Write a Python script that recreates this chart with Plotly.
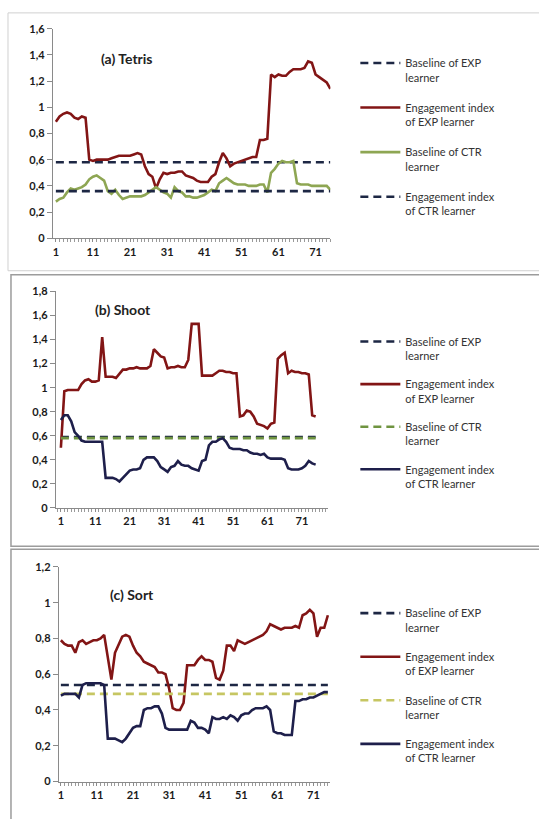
import plotly.graph_objects as go

# ---------------- data ----------------
x_tetris = list(range(1, 76))
tetris_exp_engagement = [0.89, 0.93, 0.95, 0.96, 0.95, 0.92, 0.91, 0.93, 0.92, 0.60,
                         0.59, 0.60, 0.60, 0.60, 0.60, 0.61, 0.62, 0.63, 0.63, 0.63,
                         0.63, 0.64, 0.65, 0.64, 0.55, 0.49, 0.47, 0.38, 0.45, 0.50,
                         0.49, 0.50, 0.50, 0.51, 0.51, 0.48, 0.47, 0.46, 0.44, 0.43,
                         0.43, 0.43, 0.47, 0.49, 0.58, 0.65, 0.61, 0.55, 0.57, 0.58,
                         0.59, 0.60, 0.61, 0.62, 0.62, 0.75, 0.75, 0.76, 1.25, 1.23,
                         1.25, 1.24, 1.24, 1.27, 1.29, 1.29, 1.29, 1.30, 1.35, 1.34,
                         1.25, 1.23, 1.21, 1.19, 1.14]
tetris_ctr_baseline = [0.28, 0.30, 0.31, 0.35, 0.38, 0.37, 0.38, 0.39, 0.41, 0.45,
                       0.47, 0.48, 0.46, 0.44, 0.36, 0.34, 0.37, 0.33, 0.30, 0.31,
                       0.32, 0.32, 0.32, 0.32, 0.33, 0.35, 0.37, 0.39, 0.37, 0.35,
                       0.34, 0.31, 0.39, 0.36, 0.35, 0.32, 0.32, 0.31, 0.31, 0.32,
                       0.33, 0.35, 0.37, 0.36, 0.42, 0.44, 0.46, 0.44, 0.42, 0.41,
                       0.41, 0.41, 0.40, 0.40, 0.40, 0.41, 0.41, 0.35, 0.50, 0.53,
                       0.57, 0.59, 0.58, 0.58, 0.59, 0.42, 0.41, 0.41, 0.41, 0.40,
                       0.40, 0.40, 0.40, 0.40, 0.37]
tetris_exp_baseline = 0.58
tetris_ctr_engagement_level = 0.36

x_shoot = list(range(1, 76))
shoot_exp_engagement = [0.50, 0.97, 0.98, 0.98, 0.98, 0.98, 1.03, 1.06, 1.07, 1.05,
                        1.05, 1.06, 1.42, 1.09, 1.09, 1.09, 1.08, 1.12, 1.15, 1.15,
                        1.16, 1.16, 1.17, 1.16, 1.16, 1.16, 1.18, 1.32, 1.29, 1.26,
                        1.25, 1.16, 1.17, 1.17, 1.18, 1.17, 1.17, 1.23, 1.53, 1.53,
                        1.53, 1.10, 1.10, 1.10, 1.10, 1.12, 1.14, 1.14, 1.13, 1.13,
                        1.12, 1.12, 0.76, 0.77, 0.81, 0.80, 0.76, 0.70, 0.69, 0.68,
                        0.66, 0.70, 0.71, 1.24, 1.27, 1.29, 1.12, 1.14, 1.13, 1.13,
                        1.12, 1.12, 1.11, 0.77, 0.76]
shoot_ctr_engagement = [0.73, 0.77, 0.77, 0.72, 0.63, 0.60, 0.56, 0.55, 0.55, 0.55,
                        0.55, 0.55, 0.55, 0.25, 0.25, 0.25, 0.24, 0.22, 0.25, 0.28,
                        0.31, 0.32, 0.32, 0.33, 0.40, 0.42, 0.42, 0.42, 0.39, 0.34,
                        0.32, 0.30, 0.34, 0.35, 0.39, 0.36, 0.35, 0.35, 0.33, 0.32,
                        0.31, 0.39, 0.40, 0.52, 0.55, 0.55, 0.57, 0.58, 0.55, 0.50,
                        0.49, 0.49, 0.49, 0.48, 0.48, 0.46, 0.45, 0.45, 0.44, 0.45,
                        0.42, 0.41, 0.41, 0.41, 0.41, 0.40, 0.33, 0.32, 0.32, 0.32,
                        0.33, 0.35, 0.39, 0.37, 0.36]
shoot_exp_baseline = 0.59
shoot_ctr_baseline = 0.58

x_sort = list(range(1, 76))
sort_exp_engagement = [0.79, 0.77, 0.76, 0.76, 0.72, 0.78, 0.79, 0.77, 0.78, 0.79,
                       0.79, 0.80, 0.82, 0.70, 0.57, 0.72, 0.77, 0.81, 0.82, 0.81,
                       0.76, 0.72, 0.70, 0.67, 0.66, 0.65, 0.64, 0.61, 0.61, 0.60,
                       0.52, 0.41, 0.40, 0.40, 0.44, 0.65, 0.65, 0.65, 0.68, 0.70,
                       0.68, 0.68, 0.67, 0.58, 0.57, 0.62, 0.76, 0.76, 0.73, 0.79,
                       0.78, 0.77, 0.78, 0.79, 0.80, 0.81, 0.82, 0.84, 0.88, 0.87,
                       0.86, 0.85, 0.86, 0.86, 0.86, 0.87, 0.86, 0.93, 0.94, 0.96,
                       0.94, 0.81, 0.86, 0.86, 0.93]
sort_ctr_engagement = [0.48, 0.49, 0.49, 0.49, 0.49, 0.47, 0.54, 0.55, 0.55, 0.55,
                       0.55, 0.55, 0.54, 0.24, 0.24, 0.24, 0.23, 0.22, 0.24, 0.27,
                       0.30, 0.31, 0.31, 0.40, 0.41, 0.41, 0.42, 0.42, 0.38, 0.30,
                       0.29, 0.29, 0.29, 0.29, 0.29, 0.29, 0.34, 0.33, 0.30, 0.30,
                       0.29, 0.27, 0.36, 0.35, 0.35, 0.36, 0.35, 0.37, 0.36, 0.34,
                       0.37, 0.38, 0.38, 0.40, 0.41, 0.41, 0.41, 0.42, 0.40, 0.28,
                       0.27, 0.27, 0.26, 0.26, 0.26, 0.45, 0.45, 0.46, 0.46, 0.47,
                       0.47, 0.48, 0.49, 0.50, 0.50]
sort_exp_baseline = 0.54
sort_ctr_baseline = 0.49

names = ["Baseline of EXP<br>learner", "Engagement index<br>of EXP learner",
         "Baseline of CTR<br>learner", "Engagement index<br>of CTR learner"]
panel_titles = ["(a) Tetris", "(b) Shoot", "(c) Sort"]
x_tick_vals = [1, 11, 21, 31, 41, 51, 61, 71]

# ---------------- styling ----------------
W, H = 539, 819
RED = "#821515"
NAVY = "#1e1f4b"
NAVY_DASH = "#1d2744"
GREEN = "#8ea653"
GREEN_DASH = "#6f9440"
YEL_DASH = "#c6c662"
LW = 2.6
FONT = "Lato, 'Liberation Sans', sans-serif"


def px_x(p):
    return p / W


def px_y(p):
    return 1 - p / H


fig = go.Figure()


def line(x, y, name, color, dash, xa, ya, leg, grp):
    fig.add_trace(go.Scatter(
        x=x, y=y, name=name, mode="lines",
        line=dict(color=color, width=LW, dash=dash),
        xaxis=xa, yaxis=ya, legend=leg, legendgroup=grp,
        hoverinfo="skip"))


# Panel (a)
line(x_tetris, [tetris_exp_baseline] * len(x_tetris), names[0], NAVY_DASH, "8px,5px", "x", "y", "legend", "a1")
line(x_tetris, tetris_exp_engagement, names[1], RED, "solid", "x", "y", "legend", "a2")
line(x_tetris, tetris_ctr_baseline, names[2], GREEN, "solid", "x", "y", "legend", "a3")
line(x_tetris, [tetris_ctr_engagement_level] * len(x_tetris), names[3], NAVY_DASH, "8px,5px", "x", "y", "legend", "a4")

# Panel (b)
line(x_shoot, [shoot_exp_baseline] * len(x_shoot), names[0], NAVY_DASH, "8px,5px", "x2", "y2", "legend2", "b1")
line(x_shoot, shoot_exp_engagement, names[1], RED, "solid", "x2", "y2", "legend2", "b2")
line(x_shoot, [shoot_ctr_baseline] * len(x_shoot), names[2], GREEN_DASH, "8px,5px", "x2", "y2", "legend2", "b3")
line(x_shoot, shoot_ctr_engagement, names[3], NAVY, "solid", "x2", "y2", "legend2", "b4")

# Panel (c)
line(x_sort, [sort_exp_baseline] * len(x_sort), names[0], NAVY_DASH, "8px,5px", "x3", "y3", "legend3", "c1")
line(x_sort, sort_exp_engagement, names[1], RED, "solid", "x3", "y3", "legend3", "c2")
line(x_sort, [sort_ctr_baseline] * len(x_sort), names[2], YEL_DASH, "8px,5px", "x3", "y3", "legend3", "c3")
line(x_sort, sort_ctr_engagement, names[3], NAVY, "solid", "x3", "y3", "legend3", "c4")

tickfont = dict(family=FONT, size=11, color="#1a1a1a", weight="bold")


def xaxis(domain, rng, anchor):
    return dict(domain=domain, range=rng, anchor=anchor, showgrid=False, zeroline=False,
                showline=True, linecolor="#8a8a8a", linewidth=1.2,
                tickmode="array", tickvals=x_tick_vals, ticks="outside", ticklen=3,
                tickcolor="#8a8a8a", tickfont=tickfont,
                minor=dict(ticks="outside", ticklen=3, tickcolor="#9a9a9a",
                           tickmode="linear", tick0=1, dtick=1))


def yaxis(domain, rng, anchor):
    return dict(domain=domain, range=rng, anchor=anchor, showgrid=False, zeroline=False,
                showline=True, linecolor="#8a8a8a", linewidth=1.2,
                dtick=0.2, tick0=0, ticks="outside", ticklen=5, tickcolor="#8a8a8a",
                tickfont=tickfont)


def legend(top_px, gap):
    return dict(x=px_x(355), y=px_y(top_px), xanchor="left", yanchor="top",
                font=dict(family=FONT, size=11, color="#333"),
                bgcolor="rgba(0,0,0,0)", borderwidth=0, itemwidth=40,
                tracegroupgap=gap, valign="top", itemclick=False)


fig.update_layout(
    width=W, height=H, margin=dict(l=0, r=0, t=0, b=0),
    paper_bgcolor="white", plot_bgcolor="white",
    separators=",.",
    font=dict(family=FONT, size=11, color="#222"),
    xaxis=xaxis([px_x(52), px_x(330)], [0.2, 75], "y"),
    yaxis=yaxis([px_y(235), px_y(22)], [0, 1.6], "x"),
    xaxis2=xaxis([px_x(55), px_x(328)], [-0.45, 78.7], "y2"),
    yaxis2=yaxis([px_y(509), px_y(289)], [0, 1.8], "x2"),
    xaxis3=xaxis([px_x(58), px_x(330)], [0.45, 75.7], "y3"),
    yaxis3=yaxis([px_y(787), px_y(569)], [0, 1.2], "x3"),
    legend=legend(43, 13),
    legend2=legend(326, 11),
    legend3=legend(602, 12),
    showlegend=True,
)

# panel frames
frames = [(7, 6, 268, "#d0d0d0", 1), (10, 272, 548, "#9c9c9c", 1.5), (10, 551, 830, "#9c9c9c", 1.5)]
for x0, y0, y1, c, w in frames:
    fig.add_shape(type="rect", xref="paper", yref="paper",
                  x0=px_x(x0), x1=1.02, y0=px_y(y1), y1=px_y(y0),
                  line=dict(color=c, width=w), fillcolor="rgba(0,0,0,0)", layer="below")

# panel titles
title_pos = [(98, 52), (92, 307), (107, 597)]
for t, (tx, ty) in zip(panel_titles, title_pos):
    fig.add_annotation(text="<b>" + t + "</b>", x=px_x(tx), y=px_y(ty), xref="paper", yref="paper",
                       xanchor="left", yanchor="middle", showarrow=False,
                       font=dict(family=FONT, size=14, color="#222"))

fig.write_html("out.html",
               config={"displayModeBar": False},
               post_script="document.body.style.margin='0';document.body.style.overflow='hidden';")
